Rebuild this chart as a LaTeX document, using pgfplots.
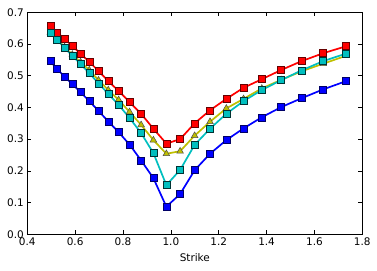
\documentclass[border=0pt]{standalone}
\usepackage{pgfplots}
\pgfplotsset{compat=1.18}
\usepackage{fontspec}
\setmainfont{DejaVu Sans}
\begin{document}
\begin{tikzpicture}
\begin{axis}[
  name=ax,
  scale only axis,
  width=335bp, height=222bp,
  xmin=0.4, xmax=1.8, ymin=0, ymax=0.7,
  xtick={0.4,0.6,...,1.8},
  ytick={0,0.1,...,0.7},
  xticklabel style={/pgf/number format/.cd,fixed,fixed zerofill,precision=1},
  yticklabel style={/pgf/number format/.cd,fixed,fixed zerofill,precision=1},
  /pgf/number format/assume math mode=true,
  tick label style={font=\fontsize{10.5}{12}\selectfont},
  label style={font=\fontsize{10.5}{12}\selectfont},
  xlabel={Strike},
  xlabel style={yshift=-1bp},
  tick align=inside,
  major tick length=4bp,
  axis line style={line width=0.8bp},
  every tick/.style={black, line width=0.5bp},
  clip=false,
]
\addplot[red, line width=1.7bp, mark=square*, mark size=3.5bp, mark options={fill=red, draw=black!60!red, line width=0.5bp}] coordinates {
(0.496,0.659)(0.525,0.637)(0.5557,0.616)(0.5882,0.594)(0.6226,0.569)(0.6591,0.544)(0.6976,0.515)(0.7384,0.483)(0.7816,0.452)(0.8273,0.417)(0.8757,0.380)(0.9270,0.333)(0.9812,0.286)(1.0386,0.300)(1.0993,0.350)(1.1636,0.391)(1.2317,0.427)(1.3038,0.462)(1.3800,0.489)(1.4608,0.518)(1.5462,0.546)(1.6367,0.571)(1.7324,0.593)
};
\addplot[blue, line width=1.7bp, mark=square*, mark size=3.5bp, mark options={fill=blue, draw=black!60!blue, line width=0.5bp}] coordinates {
(0.496,0.546)(0.525,0.521)(0.5557,0.497)(0.5882,0.474)(0.6226,0.448)(0.6591,0.420)(0.6976,0.389)(0.7384,0.356)(0.7816,0.322)(0.8273,0.283)(0.8757,0.233)(0.9270,0.177)(0.9812,0.087)(1.0386,0.127)(1.0993,0.202)(1.1636,0.254)(1.2317,0.297)(1.3038,0.334)(1.3800,0.369)(1.4608,0.401)(1.5462,0.429)(1.6367,0.457)(1.7324,0.483)
};
\addplot[color={rgb,1:red,0.75;green,0.75;blue,0}, line width=1.7bp, mark=triangle*, mark size=3.8bp, mark options={fill={rgb,1:red,0.75;green,0.75;blue,0}, draw=black!70, line width=0.5bp}] coordinates {
(0.496,0.636)(0.525,0.614)(0.5557,0.591)(0.5882,0.567)(0.6226,0.543)(0.6591,0.518)(0.6976,0.486)(0.7384,0.455)(0.7816,0.424)(0.8273,0.386)(0.8757,0.345)(0.9270,0.297)(0.9812,0.254)(1.0386,0.262)(1.0993,0.311)(1.1636,0.355)(1.2317,0.397)(1.3038,0.427)(1.3800,0.460)(1.4608,0.487)(1.5462,0.514)(1.6367,0.538)(1.7324,0.563)
};
\addplot[color={rgb,1:red,0;green,0.75;blue,0.75}, line width=1.7bp, mark=square*, mark size=3.5bp, mark options={fill={rgb,1:red,0;green,0.75;blue,0.75}, draw=black!60!teal, line width=0.5bp}] coordinates {
(0.496,0.634)(0.525,0.613)(0.5557,0.588)(0.5882,0.563)(0.6226,0.537)(0.6591,0.508)(0.6976,0.476)(0.7384,0.443)(0.7816,0.408)(0.8273,0.367)(0.8757,0.319)(0.9270,0.256)(0.9812,0.155)(1.0386,0.203)(1.0993,0.282)(1.1636,0.333)(1.2317,0.380)(1.3038,0.420)(1.3800,0.455)(1.4608,0.486)(1.5462,0.517)(1.6367,0.546)(1.7324,0.570)
};
\end{axis}
\path (ax.south west) ++(-27.3bp,-36.7bp) coordinate (bl);
\path (ax.north east) ++(14.7bp,12.3bp) coordinate (tr);
\useasboundingbox (bl) rectangle (tr);
\end{tikzpicture}
\end{document}
